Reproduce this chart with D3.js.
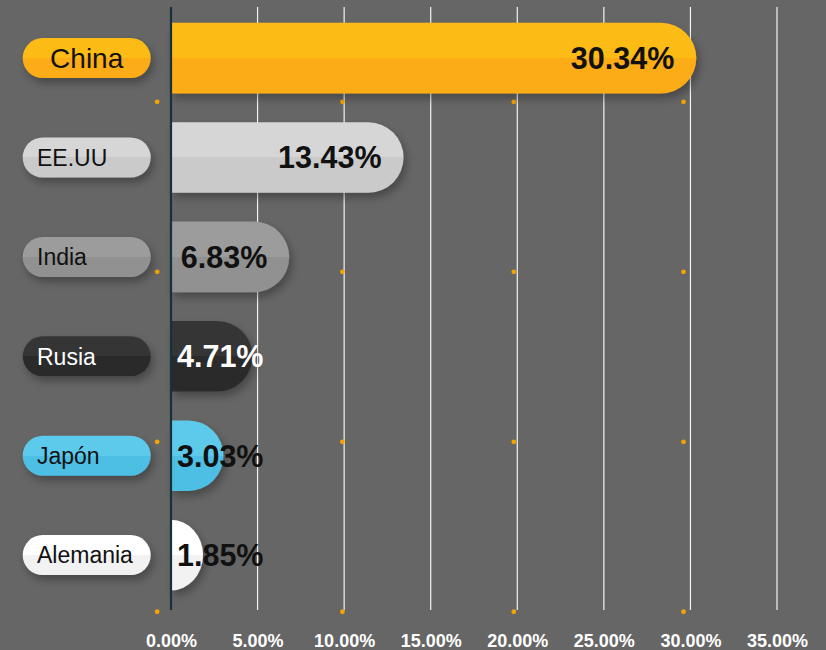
<!DOCTYPE html>
<html>
<head>
<meta charset="utf-8">
<script src="https://cdn.jsdelivr.net/npm/d3@7"></script>
<style>
  html,body{margin:0;padding:0;background:#666666;}
  svg{display:block;font-family:"Liberation Sans",Arial,sans-serif;}
</style>
</head>
<body>
<div id="chart"></div>
<script>
// data
var countries=["China","EE.UU","India","Rusia","Japón","Alemania"];
var shares=[30.34,13.43,6.83,4.71,3.03,1.85];
var tickValues=[0,5,10,15,20,25,30,35];

// palette: [top half, bottom half, text]
var palette=[
  ["#fdbb18","#fcac12","#111"],
  ["#d6d6d6","#cacaca","#111"],
  ["#9c9c9c","#919191","#111"],
  ["#353535","#2b2b2b","#fff"],
  ["#5dcaec","#4dbfe4","#111"],
  ["#ffffff","#f2f2f2","#111"]
];

var W=826,H=650;
var svg=d3.select("#chart").append("svg").attr("width",W).attr("height",H);
svg.append("rect").attr("width",W).attr("height",H).attr("fill","#666666");

var defs=svg.append("defs");
var f=defs.append("filter").attr("id","shadow").attr("x","-20%").attr("y","-30%").attr("width","150%").attr("height","180%");
f.append("feDropShadow").attr("dx",3).attr("dy",5).attr("stdDeviation",4)
  .attr("flood-color","#000").attr("flood-opacity",0.3);
palette.forEach(function(p,i){
  var lg=defs.append("linearGradient").attr("id","grad"+i).attr("x1",0).attr("y1",0).attr("x2",0).attr("y2",1);
  lg.append("stop").attr("offset","0%").attr("stop-color",p[0]);
  lg.append("stop").attr("offset","50%").attr("stop-color",p[0]);
  lg.append("stop").attr("offset","50%").attr("stop-color",p[1]);
  lg.append("stop").attr("offset","100%").attr("stop-color",p[1]);
});

var x=d3.scaleLinear().domain([0,35]).range([171,777]);
var y=d3.scaleBand().domain(countries).range([8.4,604.8]).paddingInner(0.29).paddingOuter(0.145);
var gridTop=7,gridBottom=610;

var rows=countries.map(function(c,i){return {name:c,value:shares[i],i:i};});

// grid lines
svg.append("g").selectAll("line").data(tickValues.slice(1)).enter().append("line")
  .attr("x1",function(d){return x(d);}).attr("x2",function(d){return x(d);})
  .attr("y1",gridTop).attr("y2",gridBottom)
  .attr("stroke","#f4f4f4").attr("stroke-width",1.2);

// small orange dots (decoration in the original)
var dotX=[-0.8,9.9,19.8,29.6], dotRow=[0.44,2.15,3.86,5.57];
var rowY=d3.scaleLinear().domain([0,1]).range([y(countries[0])+y.bandwidth()/2,y(countries[1])+y.bandwidth()/2]);
var dots=[];
dotRow.forEach(function(r){dotX.forEach(function(v){dots.push({v:v,r:r});});});
svg.append("g").selectAll("circle").data(dots).enter().append("circle")
  .attr("cx",function(d){return x(d.v);}).attr("cy",function(d){return rowY(d.r);})
  .attr("r",2.4).attr("fill","#f5a300");

// bars with rounded right end
function barPath(d){
  var x0=x(0), xe=x(d.value), top=y(d.name), h=y.bandwidth(), r=h/2;
  var rx=Math.min(r,xe-x0);
  return "M"+x0+","+top+"H"+(xe-rx)+"A"+rx+","+r+" 0 0 1 "+(xe-rx)+","+(top+h)+"H"+x0+"Z";
}
svg.append("g").selectAll("path").data(rows).enter().append("path")
  .attr("d",barPath)
  .attr("fill",function(d){return "url(#grad"+d.i+")";})
  .attr("filter","url(#shadow)");

// axis line
svg.append("line").attr("x1",x(0)).attr("x2",x(0)).attr("y1",gridTop).attr("y2",gridBottom)
  .attr("stroke","#15323a").attr("stroke-width",2.2);

// value labels
var fmt=function(v){return d3.format(".2f")(v)+"%";};
var vl=svg.append("g").selectAll("text").data(rows).enter().append("text")
  .attr("y",function(d){return y(d.name)+y.bandwidth()/2;}).attr("dy","0.36em")
  .attr("text-anchor","end").attr("font-size",30.5).attr("font-weight","bold")
  .attr("fill",function(d){return palette[d.i][2];})
  .text(function(d){return fmt(d.value);});
vl.attr("x",function(d){
  var w=this.getComputedTextLength();
  return Math.max(x(d.value)-22,x(0)+6+w);
});

// country pills
var pillX=22.7,pillW=128,pillH=40;
var pills=svg.append("g").selectAll("g").data(rows).enter().append("g")
  .attr("transform",function(d){return "translate(0,"+(y(d.name)+y.bandwidth()/2)+")";});
pills.append("rect").attr("x",pillX).attr("y",-pillH/2).attr("width",pillW).attr("height",pillH)
  .attr("rx",pillH/2).attr("fill",function(d){return "url(#grad"+d.i+")";})
  .attr("filter","url(#shadow)");
pills.append("text")
  .attr("x",function(d){return d.i===0?pillX+pillW/2:37;})
  .attr("text-anchor",function(d){return d.i===0?"middle":"start";})
  .attr("dy","0.36em")
  .attr("font-size",function(d){return d.i===0?28:23;})
  .attr("fill",function(d){return palette[d.i][2];})
  .text(function(d){return d.name;});

// x axis tick labels
var ax=svg.append("g").attr("transform","translate(0,"+gridBottom+")")
  .call(d3.axisBottom(x).tickValues(tickValues).tickSize(0).tickFormat(fmt));
ax.select(".domain").remove();
ax.selectAll("text").attr("y",37).attr("dy",0)
  .attr("fill","#fff").attr("font-size",18).attr("font-weight","bold")
  .attr("font-family","'Liberation Sans',Arial,sans-serif");
</script>
</body>
</html>
